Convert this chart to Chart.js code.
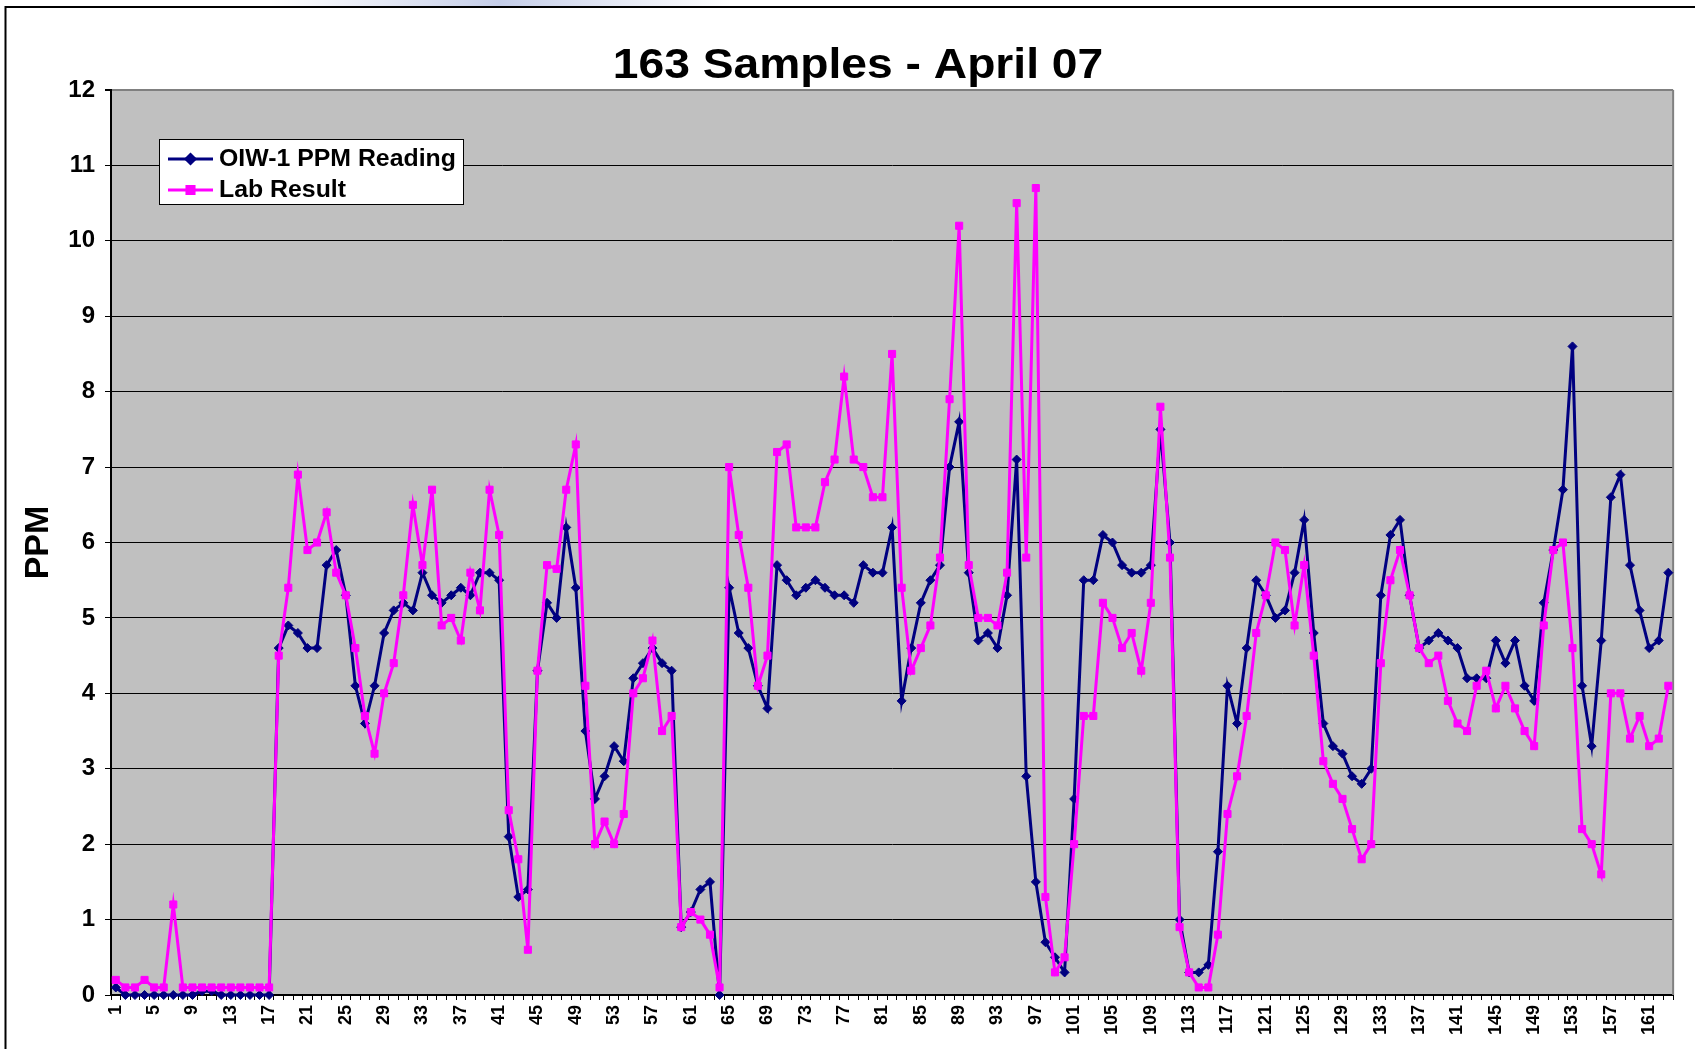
<!DOCTYPE html>
<html>
<head>
<meta charset="utf-8">
<title>163 Samples - April 07</title>
<script src="https://cdn.jsdelivr.net/npm/chart.js@4.4.0/dist/chart.umd.min.js"></script>
<style>
  html, body { margin: 0; padding: 0; background: #fff; }
  #wrap { width: 1695px; height: 1049px; position: relative; }
</style>
</head>
<body>
<div id="wrap"><canvas id="ppmChart"></canvas></div>
<script>
const chartTitle = '163 Samples - April 07';
const sampleNumbers = Array.from({ length: 163 }, (_, i) => String(i + 1));
const yTicks = [0, 1, 2, 3, 4, 5, 6, 7, 8, 9, 10, 11, 12];

// OIW-1 online analyser
const oiwReading = [
  0.1, 0, 0, 0, 0, 0, 0, 0, 0, 0.05, 0.05, 0, 0, 0, 0, 0, 0,
  4.6, 4.9, 4.8, 4.6, 4.6, 5.7, 5.9, 5.3, 4.1, 3.6,
  4.1, 4.8, 5.1, 5.2, 5.1, 5.6, 5.3, 5.2, 5.3, 5.4,
  5.3, 5.6, 5.6, 5.5, 2.1, 1.3, 1.4, 4.3, 5.2, 5.0,
  6.2, 5.4, 3.5, 2.6, 2.9, 3.3, 3.1, 4.2, 4.4, 4.6,
  4.4, 4.3, 0.9, 1.1, 1.4, 1.5, 0.0, 5.4, 4.8, 4.6,
  4.1, 3.8, 5.7, 5.5, 5.3, 5.4, 5.5, 5.4, 5.3, 5.3,
  5.2, 5.7, 5.6, 5.6, 6.2, 3.9, 4.6, 5.2, 5.5, 5.7,
  7.0, 7.6, 5.6, 4.7, 4.8, 4.6, 5.3, 7.1, 2.9, 1.5,
  0.7, 0.5, 0.3, 2.6, 5.5, 5.5, 6.1, 6.0, 5.7, 5.6,
  5.6, 5.7, 7.5, 6.0, 1.0, 0.3, 0.3, 0.4, 1.9, 4.1,
  3.6, 4.6, 5.5, 5.3, 5.0, 5.1, 5.6, 6.3, 4.8, 3.6,
  3.3, 3.2, 2.9, 2.8, 3.0, 5.3, 6.1, 6.3, 5.3, 4.6,
  4.7, 4.8, 4.7, 4.6, 4.2, 4.2, 4.2, 4.7, 4.4, 4.7,
  4.1, 3.9, 5.2, 5.9, 6.7, 8.6, 4.1, 3.3, 4.7, 6.6,
  6.9, 5.7, 5.1, 4.6, 4.7, 5.6
];

// lab samples
const labResult = [
  0.2, 0.1, 0.1, 0.2, 0.1, 0.1, 1.2, 0.1, 0.1, 0.1, 0.1, 0.1, 0.1, 0.1, 0.1, 0.1, 0.1,
  4.5, 5.4, 6.9, 5.9, 6.0, 6.4, 5.6, 5.3, 4.6, 3.7,
  3.2, 4.0, 4.4, 5.3, 6.5, 5.7, 6.7, 4.9, 5.0, 4.7,
  5.6, 5.1, 6.7, 6.1, 2.45, 1.8, 0.6, 4.3, 5.7, 5.65,
  6.7, 7.3, 4.1, 2.0, 2.3, 2.0, 2.4, 4.0, 4.2, 4.7,
  3.5, 3.7, 0.9, 1.1, 1.0, 0.8, 0.1, 7.0, 6.1, 5.4,
  4.1, 4.5, 7.2, 7.3, 6.2, 6.2, 6.2, 6.8, 7.1, 8.2,
  7.1, 7.0, 6.6, 6.6, 8.5, 5.4, 4.3, 4.6, 4.9, 5.8,
  7.9, 10.2, 5.7, 5.0, 5.0, 4.9, 5.6, 10.5, 5.8, 10.7,
  1.3, 0.3, 0.5, 2.0, 3.7, 3.7, 5.2, 5.0, 4.6, 4.8,
  4.3, 5.2, 7.8, 5.8, 0.9, 0.3, 0.1, 0.1, 0.8, 2.4,
  2.9, 3.7, 4.8, 5.3, 6.0, 5.9, 4.9, 5.7, 4.5, 3.1,
  2.8, 2.6, 2.2, 1.8, 2.0, 4.4, 5.5, 5.9, 5.3, 4.6,
  4.4, 4.5, 3.9, 3.6, 3.5, 4.1, 4.3, 3.8, 4.1, 3.8,
  3.5, 3.3, 4.9, 5.9, 6.0, 4.6, 2.2, 2.0, 1.6, 4.0,
  4.0, 3.4, 3.7, 3.3, 3.4, 4.1
];

const FONT = '"Liberation Sans", Arial, sans-serif';
Chart.defaults.font.family = FONT;
Chart.defaults.font.weight = 'bold';
Chart.defaults.color = '#000';

// text in the original is a bit wider than plain Arial, stretch it a little
function wideText(ctx, text, x, y, stretch) {
  ctx.save();
  ctx.translate(x, y);
  ctx.scale(stretch, 1);
  ctx.fillText(text, 0, 0);
  ctx.restore();
}

// background, outer frame, plot fill, title and legend box
const sheetPlugin = {
  id: 'sheet',
  beforeDraw(chart) {
    const { ctx, chartArea: a, width, height } = chart;
    ctx.save();
    ctx.fillStyle = '#fff';
    ctx.fillRect(0, 0, width, height);
    const g = ctx.createLinearGradient(270, 0, 730, 0);
    g.addColorStop(0, 'rgba(200,208,232,0)');
    g.addColorStop(0.5, 'rgba(190,200,230,0.9)');
    g.addColorStop(1, 'rgba(200,208,232,0)');
    ctx.fillStyle = g;
    ctx.fillRect(270, 0, 460, 7);
    ctx.strokeStyle = '#000';
    ctx.lineWidth = 2;
    ctx.beginPath();
    ctx.moveTo(5.5, height);
    ctx.lineTo(5.5, 7);
    ctx.lineTo(width, 7);
    ctx.stroke();
    ctx.fillStyle = '#c0c0c0';
    ctx.fillRect(a.left, a.top, a.right - a.left, a.bottom - a.top);
    ctx.restore();
  },
  beforeDatasetsDraw(chart) {
    const { ctx, chartArea: a } = chart;
    ctx.save();
    ctx.strokeStyle = '#808080';
    ctx.lineWidth = 2;
    ctx.beginPath();
    ctx.moveTo(a.right, a.top);
    ctx.lineTo(a.right, a.bottom);
    ctx.stroke();
    ctx.restore();
  },
  afterDraw(chart) {
    const ctx = chart.ctx;
    ctx.save();
    ctx.fillStyle = '#000';
    ctx.font = 'bold 42px ' + FONT;
    ctx.textAlign = 'center';
    ctx.textBaseline = 'alphabetic';
    wideText(ctx, chartTitle, 858, 78, 1.1);

    // legend
    ctx.fillStyle = '#fff';
    ctx.fillRect(159, 139, 304, 65);
    ctx.strokeStyle = '#000';
    ctx.lineWidth = 1;
    ctx.strokeRect(159.5, 139.5, 304, 65);
    const rows = [159, 190];
    chart.data.datasets.forEach((ds, i) => {
      const y = rows[i];
      ctx.strokeStyle = ds.borderColor;
      ctx.lineWidth = 3;
      ctx.beginPath();
      ctx.moveTo(168, y);
      ctx.lineTo(213, y);
      ctx.stroke();
      ctx.fillStyle = ds.backgroundColor;
      Chart.helpers.drawPoint(ctx, { pointStyle: ds.pointStyle, radius: ds.pointRadius, rotation: 0, borderWidth: 1 }, 190.5, y);
      ctx.fillStyle = '#000';
      ctx.font = 'bold 23px ' + FONT;
      ctx.textAlign = 'left';
      ctx.textBaseline = 'middle';
      wideText(ctx, ds.label, 219, y + 1, 1.08);
    });
    ctx.restore();
  }
};

new Chart(document.getElementById('ppmChart'), {
  type: 'line',
  data: {
    labels: sampleNumbers,
    datasets: [
      {
        label: 'OIW-1 PPM Reading',
        data: oiwReading,
        borderColor: '#000080',
        backgroundColor: '#000080',
        borderWidth: 3,
        pointStyle: 'rectRot',
        pointRadius: 4.5,
        pointBorderWidth: 1,
        tension: 0,
        clip: false,
        order: 1
      },
      {
        label: 'Lab Result',
        data: labResult,
        borderColor: '#ff00ff',
        backgroundColor: '#ff00ff',
        borderWidth: 3,
        pointStyle: 'rect',
        pointRadius: 5,
        pointBorderWidth: 1,
        tension: 0,
        clip: false,
        order: 0
      }
    ]
  },
  options: {
    responsive: true,
    maintainAspectRatio: false,
    animation: false,
    layout: { padding: { top: 90, right: 18, left: 0, bottom: 0 } },
    plugins: {
      legend: { display: false },
      title: { display: false },
      tooltip: { enabled: false }
    },
    scales: {
      x: {
        offset: true,
        grid: { drawOnChartArea: false, offset: true, tickLength: 5, color: '#000' },
        border: { color: '#000', width: 2 },
        ticks: {
          autoSkip: false,
          minRotation: 90,
          maxRotation: 90,
          padding: 5,
          font: { size: 18, weight: 'bold' },
          callback(value, index) {
            return index % 4 === 0 ? this.getLabelForValue(value) : '';
          }
        },
        afterFit(scale) { scale.height = 54; }
      },
      y: {
        min: yTicks[0],
        max: yTicks[yTicks.length - 1],
        grid: {
          color: c => (c.tick && c.tick.value === 12 ? '#808080' : '#000'),
          lineWidth: c => (c.tick && c.tick.value === 12 ? 2 : 1),
          tickColor: '#000',
          tickLength: 6
        },
        border: { color: '#000', width: 2 },
        ticks: {
          stepSize: 1,
          padding: 10,
          font: { size: 24, weight: 'bold' }
        },
        title: {
          display: true,
          text: 'PPM',
          font: { size: 34, weight: 'bold' },
          padding: { top: 18, bottom: 0 }
        },
        afterFit(scale) { scale.width = 111; }
      }
    }
  },
  plugins: [sheetPlugin]
});
</script>
</body>
</html>
